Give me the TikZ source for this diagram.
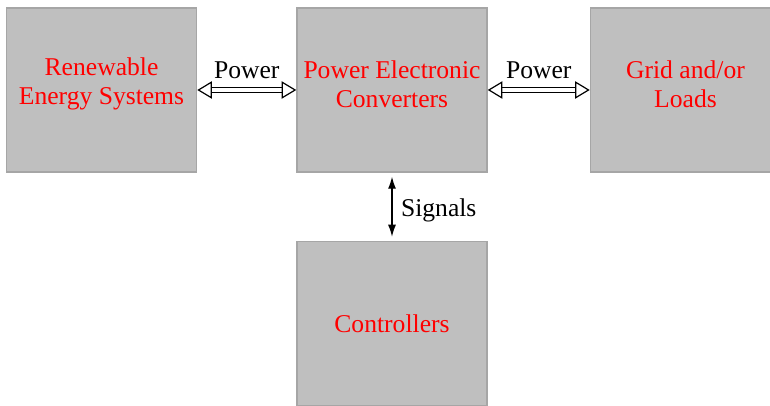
\documentclass[tikz,border=0pt]{standalone}
\usepackage{fontspec}
\setmainfont{Liberation Serif}
\usetikzlibrary{positioning, arrows.meta}

\begin{document}
\begin{tikzpicture}[
    x=0.75pt, y=0.75pt,
    node distance=51pt and 74.25pt,
    blockbox/.style={rectangle, draw=black!35, line width=1.1pt, fill=black!25,
                     minimum width=142.5pt, minimum height=123pt},
    boxtext/.style={text=red, align=center, font=\fontsize{19.2}{21.75}\selectfont},
    powerarr/.style={double, double distance=2.6pt, line width=0.9pt,
                     {Triangle[open, length=11pt, width=13pt]}-{Triangle[open, length=11pt, width=13pt]}},
    sigarr/.style={{Latex[length=9pt,width=6pt]}-{Latex[length=9pt,width=6pt]}, line width=0.9pt,
                   shorten >=3pt, shorten <=3pt},
    lbl/.style={font=\fontsize{19.2}{21.75}\selectfont}
]

\useasboundingbox (0,0) rectangle (770,406);

%% ===== BLOCKS =====
\node[blockbox, label={[boxtext, yshift=4.5pt]center:Power Electronic\\Converters}] at (392,316) (conv) {};
\node[blockbox, left=of conv,
      label={[boxtext, yshift=4.5pt]center:Renewable\\Energy Systems}] (res) {};
\node[blockbox, right=76.5pt of conv,
      label={[boxtext, yshift=4.5pt]center:Grid and/or\\Loads}] (grid) {};
\node[blockbox, below=of conv, label={[boxtext]center:Controllers}] (ctrl) {};

%% ===== CONNECTORS =====
\draw[powerarr] (res)  -- (conv) node[lbl, midway, above=5pt] {Power};
\draw[powerarr] (conv) -- (grid) node[lbl, midway, above=5pt] {Power};
\draw[sigarr]   (conv) -- (ctrl) node[lbl, midway, right=3pt, yshift=-3pt] {Signals};

\end{tikzpicture}
\end{document}
